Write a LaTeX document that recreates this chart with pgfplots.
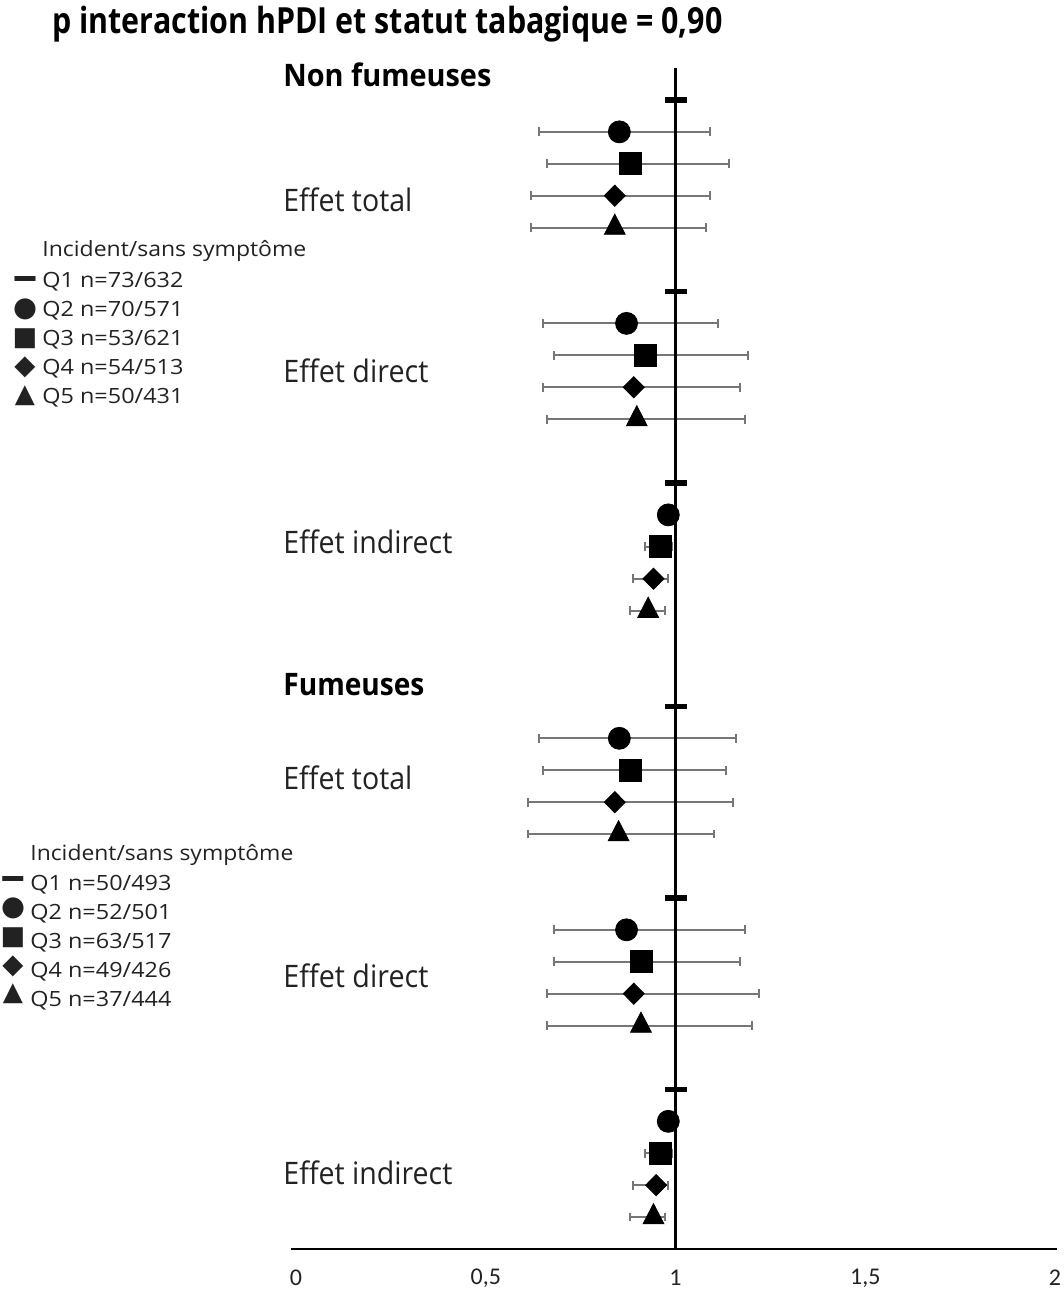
\documentclass[border=0pt]{standalone}
\usepackage{fontspec}
\setmainfont{Open Sans}
\newfontfamily\sym{DejaVu Sans}
\newfontfamily\calib{Carlito}
\usepackage{graphicx}
\usepackage{pgfplots}
\pgfplotsset{compat=1.18}
\usepackage{pgfplotstable}
\definecolor{errgray}{HTML}{767676}
\definecolor{txt}{HTML}{222222}

% Q2 (circle)
\pgfplotstableread{
x y lo hi
0.852 35 0.640 1.092
0.871 29 0.650 1.113
0.981 23 0.965 0.995
0.852 16 0.640 1.160
0.871 10 0.681 1.182
0.981 4 0.965 0.995
}\qtwo
% Q3 (square)
\pgfplotstableread{
x y lo hi
0.880 34 0.661 1.140
0.921 28 0.681 1.190
0.961 22 0.920 0.990
0.880 15 0.650 1.132
0.910 9 0.681 1.170
0.961 3 0.920 0.990
}\qthree
% Q4 (diamond)
\pgfplotstableread{
x y lo hi
0.840 33 0.619 1.092
0.890 27 0.650 1.171
0.942 21 0.889 0.980
0.840 14 0.611 1.152
0.890 8 0.661 1.221
0.949 2 0.889 0.980
}\qfour
% Q5 (triangle)
\pgfplotstableread{
x y lo hi
0.840 32 0.619 1.081
0.898 26 0.661 1.182
0.928 20 0.881 0.972
0.850 13 0.611 1.101
0.909 7 0.661 1.202
0.942 1 0.881 0.972
}\qfive

\newcommand{\T}[2]{\resizebox{#1}{\height}{#2}}
\newcommand{\Sym}[2]{\resizebox*{!}{#1}{\sym #2}}

\begin{document}
\begin{tikzpicture}
\path[use as bounding box] (0,0) rectangle (532pt,-645.5pt);
\begin{axis}[
  at={(148pt,-624.5pt)}, anchor=south west,
  scale only axis, width=379.5pt, height=590.5pt,
  xmin=0, xmax=2, ymin=0, ymax=37,
  axis x line=bottom, axis y line=none,
  x axis line style={-, line width=1pt, shorten <=-2.5pt, shorten >=-1pt},
  xtick={0,0.5,1,1.5,2}, xticklabels={0,{0,5},1,{1,5},2},
  major tick length=0pt,
  xticklabel style={anchor=center, yshift=-14.5pt, text=txt, font=\calib\fontsize{12}{14}\selectfont},
  clip=false,
  err/.style={only marks, mark=none, forget plot,
    error bars/.cd, x dir=both, x explicit,
    error bar style={draw=errgray, line width=1pt},
    error mark=|, error mark options={draw=errgray, line width=1pt, mark size=2.2pt}},
]
% error bars
\addplot[err] table[x=x, y=y, x error plus expr=\thisrow{hi}-\thisrow{x}, x error minus expr=\thisrow{x}-\thisrow{lo}] {\qtwo};
\addplot[err] table[x=x, y=y, x error plus expr=\thisrow{hi}-\thisrow{x}, x error minus expr=\thisrow{x}-\thisrow{lo}] {\qthree};
\addplot[err] table[x=x, y=y, x error plus expr=\thisrow{hi}-\thisrow{x}, x error minus expr=\thisrow{x}-\thisrow{lo}] {\qfour};
\addplot[err] table[x=x, y=y, x error plus expr=\thisrow{hi}-\thisrow{x}, x error minus expr=\thisrow{x}-\thisrow{lo}] {\qfive};
% reference line at 1
\addplot[black, line width=1.6pt, forget plot] coordinates {(1,0) (1,37)};
% markers
\addplot[only marks, black, mark=-, mark size=5.5pt, mark options={line width=2.8pt}] coordinates {(1,36) (1,30) (1,24) (1,17) (1,11) (1,5)};
\addplot[only marks, black, mark=*, mark size=5.5pt, mark options={fill=black}] table[x=x, y=y] {\qtwo};
\addplot[only marks, black, mark=square*, mark size=5.5pt, mark options={fill=black}] table[x=x, y=y] {\qthree};
\addplot[only marks, black, mark=diamond*, mark size=5.3pt, mark options={fill=black, xscale=1.32}] table[x=x, y=y] {\qfour};
\addplot[only marks, black, mark=triangle*, mark size=6pt, mark options={fill=black, yscale=1.12}] table[x=x, y=y] {\qfive};
\end{axis}

\begin{scope}[x=0.5pt, y=-0.5pt, every node/.style={inner sep=0pt, text=txt}]
% title
\node[anchor=base west, font=\bfseries\fontsize{18}{20}\selectfont, text=black] at (52,33) {\T{335pt}{p interaction hPDI et statut tabagique = 0,90}};
% group headings
\node[anchor=base west, font=\bfseries\fontsize{15.5}{18}\selectfont, text=black] at (283,86) {\T{104pt}{Non fumeuses}};
\node[anchor=base west, font=\bfseries\fontsize{15.5}{18}\selectfont, text=black] at (283,695) {\T{70.5pt}{Fumeuses}};
% effect labels
\node[anchor=base west, font=\fontsize{15.5}{18}\selectfont] at (283,211) {\T{64.5pt}{Effet total}};
\node[anchor=base west, font=\fontsize{15.5}{18}\selectfont] at (283,382) {\T{72.5pt}{Effet direct}};
\node[anchor=base west, font=\fontsize{15.5}{18}\selectfont] at (283,553) {\T{84.5pt}{Effet indirect}};
\node[anchor=base west, font=\fontsize{15.5}{18}\selectfont] at (283,789) {\T{64.5pt}{Effet total}};
\node[anchor=base west, font=\fontsize{15.5}{18}\selectfont] at (283,987) {\T{72.5pt}{Effet direct}};
\node[anchor=base west, font=\fontsize{15.5}{18}\selectfont] at (283,1184) {\T{84.5pt}{Effet indirect}};
% legend 1
\node[anchor=base west, font=\fontsize{10.5}{12}\selectfont] at (42,256) {\T{132pt}{Incident/sans symptôme}};
\node[anchor=base west, font=\fontsize{10.5}{12}\selectfont] at (42,287) {\T{70.5pt}{Q1 n=73/632}};
\node[anchor=base west, font=\fontsize{10.5}{12}\selectfont] at (42,316) {\T{70.5pt}{Q2 n=70/571}};
\node[anchor=base west, font=\fontsize{10.5}{12}\selectfont] at (42,345) {\T{70.5pt}{Q3 n=53/621}};
\node[anchor=base west, font=\fontsize{10.5}{12}\selectfont] at (42,374) {\T{70.5pt}{Q4 n=54/513}};
\node[anchor=base west, font=\fontsize{10.5}{12}\selectfont] at (42,403) {\T{70.5pt}{Q5 n=50/431}};
\node at (25,279) {\resizebox{13pt}{3pt}{\sym ▬}};
\node at (25,309) {\Sym{10.5pt}{●}};
\node at (25,339) {\Sym{10pt}{■}};
\node at (25,367) {\Sym{10.5pt}{◆}};
\node at (25,396) {\Sym{10pt}{▲}};
% legend 2
\node[anchor=base west, font=\fontsize{10.5}{12}\selectfont] at (30,860) {\T{131.5pt}{Incident/sans symptôme}};
\node[anchor=base west, font=\fontsize{10.5}{12}\selectfont] at (30,890) {\T{70.5pt}{Q1 n=50/493}};
\node[anchor=base west, font=\fontsize{10.5}{12}\selectfont] at (30,919) {\T{70.5pt}{Q2 n=52/501}};
\node[anchor=base west, font=\fontsize{10.5}{12}\selectfont] at (30,948) {\T{70.5pt}{Q3 n=63/517}};
\node[anchor=base west, font=\fontsize{10.5}{12}\selectfont] at (30,977) {\T{70.5pt}{Q4 n=49/426}};
\node[anchor=base west, font=\fontsize{10.5}{12}\selectfont] at (30,1006) {\T{70.5pt}{Q5 n=37/444}};
\node at (13,879) {\resizebox{13pt}{3pt}{\sym ▬}};
\node at (13,908) {\Sym{10.5pt}{●}};
\node at (13,938) {\Sym{10pt}{■}};
\node at (13,966) {\Sym{10.5pt}{◆}};
\node at (13,994) {\Sym{10pt}{▲}};
\end{scope}
\end{tikzpicture}
\end{document}
